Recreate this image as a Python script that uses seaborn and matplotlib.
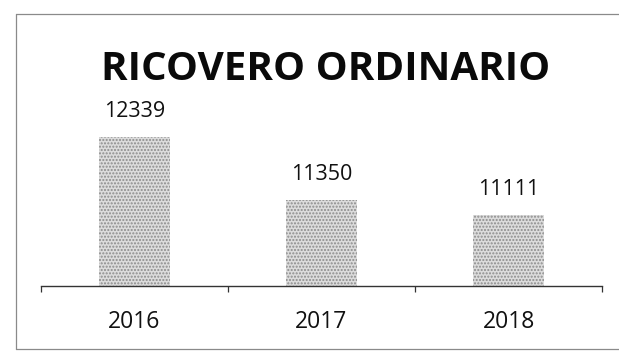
import matplotlib
matplotlib.use("Agg")
import matplotlib.pyplot as plt
from matplotlib.lines import Line2D
import seaborn as sns
import pandas as pd

# Admissions per year
years = ["2016", "2017", "2018"]
admissions = [12339, 11350, 11111]
title_text = "RICOVERO ORDINARIO"

sns.set_theme(style="white")
plt.rcParams["font.family"] = ["Open Sans", "DejaVu Sans"]

W, H = 619, 351
fig = plt.figure(figsize=(W / 100, H / 100), dpi=100)
fig.patch.set_facecolor("white")

# plot area in pixel terms
ax_left, ax_right = 41, 602
ax_base = 285.5
ax_top = 95
ax = fig.add_axes([ax_left / W, 1 - ax_base / H,
                   (ax_right - ax_left) / W, (ax_base - ax_top) / H])

df = pd.DataFrame({"year": years, "value": admissions})
sns.barplot(data=df, x="year", y="value", color="#dcdcdc", width=0.38,
            ax=ax, saturation=1)
for bar in ax.patches:
    bar.set_hatch(".....")
    bar.set_edgecolor("#8c8c8c")
    bar.set_linewidth(0)

ax.set_ylim(10000, 13000)
ax.set_xlim(-0.5, 2.5)

# value labels above the bars
for i, v in enumerate(admissions):
    ax.annotate(f"{v}", xy=(i, v), xytext=(0, 14.5), textcoords="offset points",
                ha="center", va="baseline", fontsize=15.5, color="#111111")

for side in ("left", "right", "top"):
    ax.spines[side].set_visible(False)
ax.spines["bottom"].set_color("#333333")
ax.spines["bottom"].set_linewidth(1.0)
ax.set_yticks([])
ax.set_xlabel("")
ax.set_ylabel("")
ax.set_xticks([-0.5, 0.5, 1.5, 2.5], minor=True)
ax.tick_params(axis="x", which="minor", length=4.5, width=0.9,
               color="#333333", direction="out", bottom=True)
ax.tick_params(axis="x", which="major", length=0, pad=18, labelsize=16.5,
               labelcolor="#111111")

fig.text(325.5 / W, 1 - 80 / H, title_text, ha="center", va="baseline",
         fontsize=29, fontweight="bold", color="#0a0a0a")

# thin frame around the chart
frame_kw = dict(color="#8a8a8a", linewidth=0.9, transform=fig.transFigure)
fig.add_artist(Line2D([15.5 / W, 1.0], [1 - 14 / H, 1 - 14 / H], **frame_kw))
fig.add_artist(Line2D([15.5 / W, 15.5 / W], [1 - 14 / H, 1 - 349 / H], **frame_kw))
fig.add_artist(Line2D([15.5 / W, 1.0], [1 - 349 / H, 1 - 349 / H], **frame_kw))

fig.savefig("out.png", dpi=100, facecolor="white")
